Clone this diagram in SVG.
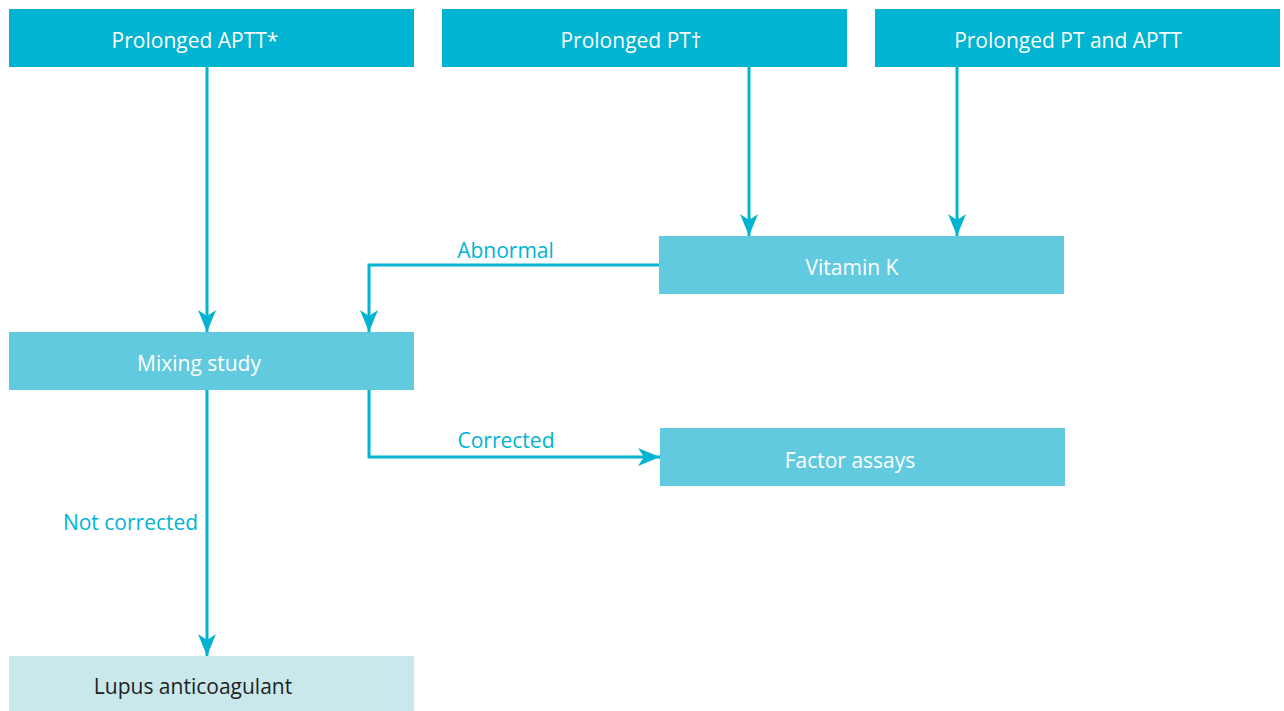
<svg xmlns="http://www.w3.org/2000/svg" width="1284" height="711" viewBox="0 0 1284 711">
<style>
.dark{fill:#00b4d2}
.mid{fill:#62cadf}
.light{fill:#c8e8ec}
.t{font-family:"Open Sans","Noto Sans",sans-serif;font-size:21px;fill:#ffffff;text-anchor:middle}
.td{font-family:"Open Sans","Noto Sans",sans-serif;font-size:21px;fill:#222222;text-anchor:middle}
.lbl{font-family:"Open Sans","Noto Sans",sans-serif;font-size:21px;fill:#00b4d2;text-anchor:middle}
.c{fill:none;stroke:#00b4d2;stroke-width:3}
</style>
<defs>
<marker id="ah" viewBox="0 0 22 18" refX="22" refY="9" markerWidth="22" markerHeight="18" markerUnits="userSpaceOnUse" orient="auto">
<path d="M0,0 L22,9 L0,18 L6,9 Z" fill="#00b4d2"/>
</marker>
</defs>
<g id="connectors">
<path class="c" d="M207,67 V332" marker-end="url(#ah)"/>
<path class="c" d="M749,67 V236" marker-end="url(#ah)"/>
<path class="c" d="M957,67 V236" marker-end="url(#ah)"/>
<path class="c" d="M659,265 H369 V332" marker-end="url(#ah)"/>
<path class="c" d="M369,390 V457 H660" marker-end="url(#ah)"/>
<path class="c" d="M207,390 V656" marker-end="url(#ah)"/>
<text class="lbl" x="505.5" y="258">Abnormal</text>
<text class="lbl" x="506" y="448">Corrected</text>
<text class="lbl" x="130.5" y="530">Not corrected</text>
</g>
<g id="n1"><rect class="dark" x="9" y="9" width="405" height="58"/><text class="t" x="195" y="48">Prolonged APTT*</text></g>
<g id="n2"><rect class="dark" x="442" y="9" width="405" height="58"/><text class="t" x="631" y="48">Prolonged PT†</text></g>
<g id="n3"><rect class="dark" x="875" y="9" width="405" height="58"/><text class="t" x="1068" y="48">Prolonged PT and APTT</text></g>
<g id="n4"><rect class="mid" x="659" y="236" width="405" height="58"/><text class="t" x="852" y="275">Vitamin K</text></g>
<g id="n5"><rect class="mid" x="9" y="332" width="405" height="58"/><text class="t" x="199" y="371">Mixing study</text></g>
<g id="n6"><rect class="mid" x="660" y="428" width="405" height="58"/><text class="t" x="850" y="468">Factor assays</text></g>
<g id="n7"><rect class="light" x="9" y="656" width="405" height="55"/><text class="td" x="193" y="694">Lupus anticoagulant</text></g>
</svg>
